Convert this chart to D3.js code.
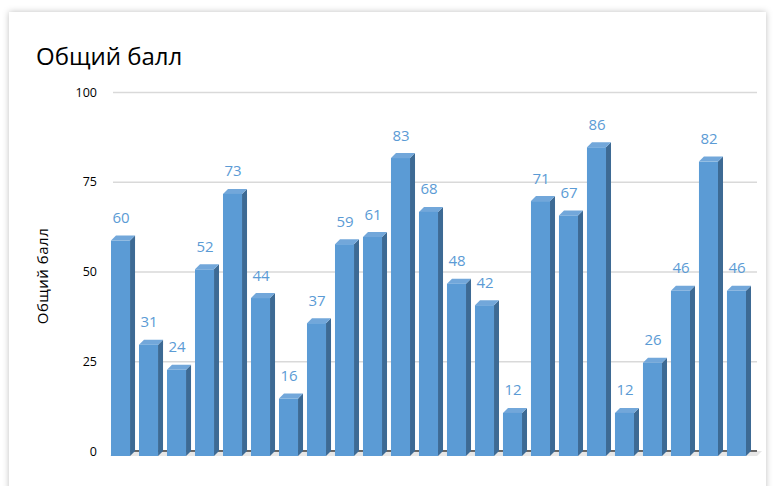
<!DOCTYPE html>
<html>
<head>
<meta charset="utf-8">
<script src="https://cdn.jsdelivr.net/npm/d3@7"></script>
<style>
  body { margin: 0; background: #fff; }
  svg { display: block; }
</style>
</head>
<body>
<div id="chart"></div>
<script>
// data
var categories = d3.range(1, 24).map(String);
var scores = [60, 31, 24, 52, 73, 44, 16, 37, 59, 61, 83, 68, 48, 42, 12, 71, 67, 86, 12, 26, 46, 82, 46];
var yTicks = [0, 25, 50, 75, 100];
var chartTitle = "Общий балл";
var yTitle = "Общий балл";

var W = 783, H = 486;
var margin = {top: 92, right: 26, bottom: 35, left: 113},
    width = W - margin.left - margin.right,
    height = H - margin.top - margin.bottom;
var dx = 5, dy = 5; // depth of the 3d bars

var root = d3.select("#chart").append("svg")
    .attr("width", W)
    .attr("height", H);

var defs = root.append("defs");
var f = defs.append("filter").attr("id", "shadow")
    .attr("x", "-5%").attr("y", "-5%").attr("width", "110%").attr("height", "110%");
f.append("feDropShadow").attr("dx", 0).attr("dy", 0)
    .attr("stdDeviation", 3).attr("flood-color", "#000").attr("flood-opacity", 0.25);

// card
root.append("rect")
    .attr("x", 9).attr("y", 12)
    .attr("width", 757).attr("height", 490)
    .attr("fill", "#fff")
    .attr("filter", "url(#shadow)");

root.append("text")
    .attr("x", 36).attr("y", 65)
    .attr("font-family", "'Open Sans', sans-serif")
    .attr("font-size", 24)
    .attr("fill", "#000")
    .text(chartTitle);

var svg = root.append("g")
    .attr("transform", "translate(" + margin.left + "," + margin.top + ")");

var x = d3.scaleBand()
    .domain(categories)
    .range([0, 641])
    .paddingInner(0.32)
    .paddingOuter(0.107);

var y = d3.scaleLinear()
    .domain([0, 100])
    .range([height, 0]);

// gridlines + tick labels
var yAxis = svg.append("g")
    .call(d3.axisLeft(y).tickValues(yTicks).tickSize(-width).tickPadding(16));
yAxis.select(".domain").remove();
yAxis.selectAll(".tick line").attr("stroke", "#d9d9d9").attr("stroke-width", 1.3);
yAxis.selectAll(".tick text")
    .attr("font-family", "'Open Sans', sans-serif")
    .attr("font-size", 12.5)
    .attr("fill", "#000");
yAxis.selectAll(".tick").filter(function (d) { return d === 0; }).select("line")
    .attr("stroke", "#404040").attr("stroke-width", 1.5);

// floor
svg.append("path")
    .attr("d", "M" + (-3) + "," + (height + dy) + "L" + (dx - 3) + "," + height +
        "L" + (width + dx) + "," + height + "L" + width + "," + (height + dy) + "Z")
    .attr("fill", "#e6e6e6");
svg.append("line")
    .attr("x1", 0).attr("x2", width)
    .attr("y1", height).attr("y2", height)
    .attr("stroke", "#404040").attr("stroke-width", 1.5);

var bars = svg.append("g")
    .selectAll("g")
    .data(scores)
    .enter()
    .append("g");

var bw = x.bandwidth();
function xl(d, i) { return x(categories[i]) - dx; }

// side
bars.append("path")
    .attr("d", function (d, i) {
      var a = xl(d, i) + bw;
      return "M" + a + "," + (y(d) + dy) + "L" + (a + dx) + "," + y(d) +
        "L" + (a + dx) + "," + y(0) + "L" + a + "," + (y(0) + dy) + "Z";
    })
    .attr("fill", "#3d6a94");
// top
bars.append("path")
    .attr("d", function (d, i) {
      var a = xl(d, i);
      return "M" + a + "," + (y(d) + dy) + "L" + (a + dx) + "," + y(d) +
        "L" + (a + bw + dx) + "," + y(d) + "L" + (a + bw) + "," + (y(d) + dy) + "Z";
    })
    .attr("fill", "#72a7da");
// front
bars.append("rect")
    .attr("x", function (d, i) { return xl(d, i); })
    .attr("y", function (d) { return y(d) + dy; })
    .attr("width", bw)
    .attr("height", function (d) { return y(0) - y(d); })
    .attr("fill", "#5b9bd5");

// value labels
bars.append("text")
    .attr("x", function (d, i) { return xl(d, i) + bw / 2 + 0.5; })
    .attr("y", function (d) { return y(d) - 12.5; })
    .attr("text-anchor", "middle")
    .attr("font-family", "'Open Sans', sans-serif")
    .attr("font-size", 15)
    .attr("fill", "#5b9bd5")
    .text(function (d) { return d; });

// y title
root.append("g")
    .attr("transform", "translate(48," + 276 + ")")
    .append("text")
    .attr("text-anchor", "middle")
    .attr("transform", "rotate(-90)")
    .attr("font-family", "'Open Sans', sans-serif")
    .attr("font-size", 15)
    .attr("letter-spacing", 0.5)
    .attr("fill", "#000")
    .text(yTitle);
</script>
</body>
</html>
